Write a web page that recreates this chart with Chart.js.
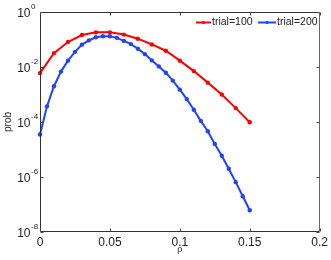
<!DOCTYPE html>
<html>
<head>
<meta charset="utf-8">
<script src="https://cdn.jsdelivr.net/npm/chart.js@4"></script>
<style>
  html, body { margin: 0; padding: 0; background: #fff; }
</style>
</head>
<body>
<canvas id="chart" width="331" height="260"></canvas>
<script>
// rho values of each series
const rho100 = [0, 0.01, 0.02, 0.03, 0.04, 0.05, 0.06, 0.07, 0.08, 0.09, 0.10, 0.11, 0.12, 0.13, 0.14, 0.15];
const rho200 = [0, 0.005, 0.01, 0.015, 0.02, 0.025, 0.03, 0.035, 0.04, 0.045, 0.05, 0.055, 0.06, 0.065, 0.07, 0.075,
                0.08, 0.085, 0.09, 0.095, 0.10, 0.105, 0.11, 0.115, 0.12, 0.125, 0.13, 0.135, 0.14, 0.145, 0.15];

// prob
const prob100 = [6.0e-3, 3.2e-2, 8.1e-2, 0.145, 0.182, 0.182, 0.151, 0.107, 6.6e-2, 3.9e-2,
                 1.7e-2, 7.1e-3, 2.7e-3, 1.0e-3, 3.2e-4, 9.8e-5];
const prob200 = [3.5e-5, 3.7e-4, 2.0e-3, 6.8e-3, 1.7e-2, 3.55e-2, 6.5e-2, 9.3e-2, 0.120, 0.132, 0.132,
                 0.115, 8.9e-2, 6.8e-2, 4.6e-2, 2.95e-2, 1.74e-2, 1.05e-2, 6.2e-3, 3.2e-3, 1.5e-3,
                 6.8e-4, 2.8e-4, 1.1e-4, 4.6e-5, 1.6e-5, 5.9e-6, 2.0e-6, 6.5e-7, 2.0e-7, 6.2e-8];

const seriesNames = ['trial=100', 'trial=200'];
const xTicks = [0, 0.05, 0.1, 0.15, 0.2];
const xTickLabels = ['0', '0.05', '0.1', '0.15', '0.2'];
const yTicks = [1, 1e-2, 1e-4, 1e-6, 1e-8];
const yExponents = ['0', '-2', '-4', '-6', '-8'];

const RED = '#ff0000';
const BLUE = '#2143ff';
const FONT = '"Liberation Sans", Arial, Helvetica, sans-serif';

// matlab style box, inward ticks, 10^n labels, axis labels and legend
const matlabAxes = {
    id: 'matlabAxes',
    afterDraw(chart) {
        const { ctx, chartArea: a, scales: { x, y } } = chart;
        const L = Math.round(a.left) + 0.5, R = Math.round(a.right) - 0.5;
        const T = Math.round(a.top) + 0.5, B = Math.round(a.bottom) - 0.5;
        ctx.save();
        ctx.lineWidth = 1;

        ctx.strokeStyle = '#333';
        ctx.beginPath();
        ctx.moveTo(L, T); ctx.lineTo(R, T);
        ctx.moveTo(L, T); ctx.lineTo(L, B); ctx.lineTo(R, B);
        ctx.stroke();
        ctx.strokeStyle = '#666';
        ctx.beginPath();
        ctx.moveTo(R, T); ctx.lineTo(R, B);
        ctx.stroke();

        ctx.strokeStyle = '#444';
        ctx.beginPath();
        xTicks.forEach(v => {
            const px = Math.round(x.getPixelForValue(v)) + 0.5;
            ctx.moveTo(px, B); ctx.lineTo(px, B - 3);
            ctx.moveTo(px, T); ctx.lineTo(px, T + 3);
        });
        yTicks.forEach(v => {
            const py = Math.round(y.getPixelForValue(v)) + 0.5;
            ctx.moveTo(L, py); ctx.lineTo(L + 3, py);
            ctx.moveTo(R, py); ctx.lineTo(R - 3, py);
        });
        ctx.stroke();

        // y tick labels as 10 with a raised exponent
        ctx.fillStyle = '#222';
        yTicks.forEach((v, i) => {
            const py = y.getPixelForValue(v);
            ctx.font = '12px ' + FONT;
            ctx.textAlign = 'right';
            ctx.textBaseline = 'alphabetic';
            ctx.fillText('10', 30.5, py + 4.6);
            ctx.font = '8px ' + FONT;
            ctx.textAlign = 'left';
            ctx.fillText(yExponents[i], 31, py - 2.7);
        });

        // axis labels
        ctx.font = '9px ' + FONT;
        ctx.textAlign = 'center';
        ctx.textBaseline = 'middle';
        ctx.fillText('\u03c1', (a.left + a.right) / 2, 250);
        ctx.save();
        ctx.translate(8, (a.top + a.bottom) / 2);
        ctx.rotate(-Math.PI / 2);
        ctx.font = '10px ' + FONT;
        ctx.fillText('prob', 0, 0);
        ctx.restore();

        // legend
        const items = [
            { name: seriesNames[0], color: RED, x0: 196, x1: 211 },
            { name: seriesNames[1], color: BLUE, x0: 258, x1: 276 }
        ];
        const ly = 22.5;
        ctx.font = '10.5px ' + FONT;
        ctx.textAlign = 'left';
        items.forEach(it => {
            ctx.strokeStyle = it.color;
            ctx.fillStyle = it.color;
            ctx.lineWidth = 2;
            ctx.beginPath();
            ctx.moveTo(it.x0, ly); ctx.lineTo(it.x1, ly);
            ctx.stroke();
            ctx.beginPath();
            ctx.arc((it.x0 + it.x1) / 2, ly, 1.6, 0, Math.PI * 2);
            ctx.fill();
            ctx.fillStyle = '#222';
            ctx.fillText(it.name, it.x1 + 1, ly);
        });
        ctx.restore();
    }
};

new Chart(document.getElementById('chart'), {
    type: 'line',
    data: {
        datasets: [
            {
                label: seriesNames[0],
                data: rho100.map((r, i) => ({ x: r, y: prob100[i] })),
                borderColor: RED,
                backgroundColor: RED,
                borderWidth: 2,
                pointRadius: 2.2,
                pointBorderWidth: 0,
                pointHoverRadius: 2.2,
                clip: false,
                fill: false,
                tension: 0,
            },
            {
                label: seriesNames[1],
                data: rho200.map((r, i) => ({ x: r, y: prob200[i] })),
                borderColor: BLUE,
                backgroundColor: BLUE,
                borderWidth: 2,
                pointRadius: 2.2,
                pointBorderWidth: 0,
                pointHoverRadius: 2.2,
                clip: false,
                fill: false,
                tension: 0,
            },
        ],
    },
    options: {
        responsive: false,
        devicePixelRatio: 1,
        animation: false,
        layout: {
            padding: { left: 0, right: 11, top: 12, bottom: 0 },
        },
        scales: {
            x: {
                type: 'linear',
                min: 0,
                max: 0.2,
                afterBuildTicks: (s) => { s.ticks = xTicks.map(v => ({ value: v })); },
                afterFit: (s) => { s.height = 28; },
                ticks: {
                    padding: 3,
                    maxRotation: 0,
                    autoSkip: false,
                    color: '#222',
                    font: { size: 12, family: FONT },
                    callback: (v, i) => xTickLabels[i],
                },
                grid: { display: false, drawTicks: false },
                border: { display: false },
            },
            y: {
                type: 'logarithmic',
                min: 1e-8,
                max: 1,
                afterBuildTicks: (s) => { s.ticks = yTicks.map(v => ({ value: v })); },
                afterFit: (s) => { s.width = 40; },
                ticks: { display: false },
                grid: { display: false, drawTicks: false },
                border: { display: false },
            },
        },
        plugins: {
            legend: { display: false },
            tooltip: { enabled: false },
        },
    },
    plugins: [matlabAxes],
});
</script>
</body>
</html>
